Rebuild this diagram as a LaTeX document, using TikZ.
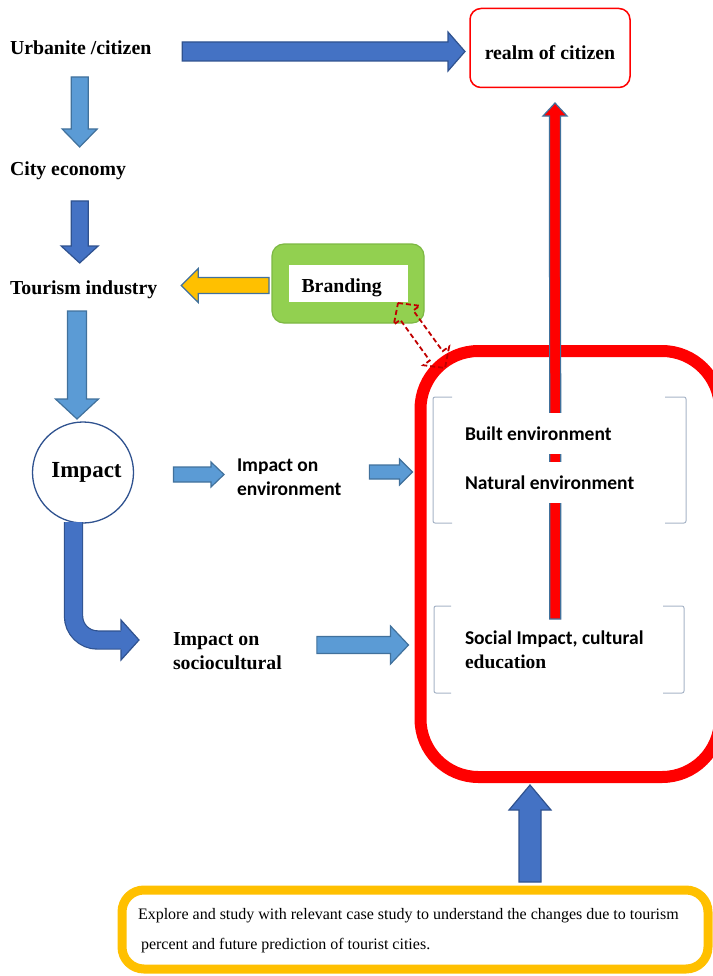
\documentclass[tikz,border=0pt]{standalone}
\usepackage{fontspec}
\setmainfont{Liberation Serif}
\newfontfamily\carlito{Carlito}
\newfontfamily\timesf{Liberation Serif}
\usetikzlibrary{calc}

\definecolor{lightfill}{HTML}{5B9BD5}
\definecolor{lightline}{HTML}{41719C}
\definecolor{darkfill}{HTML}{4472C4}
\definecolor{darkline}{HTML}{2F528F}
\definecolor{goldfill}{HTML}{FFC000}
\definecolor{leafgreen}{HTML}{92D050}
\definecolor{leafline}{HTML}{7DB843}
\definecolor{bracketgray}{HTML}{A6B3C6}
\definecolor{dashred}{HTML}{C00000}

\newcommand{\lblfont}{\fontsize{19.8pt}{24pt}\selectfont\bfseries}
\newcommand{\sanslbl}{\carlito\fontsize{19.5pt}{24pt}\selectfont\bfseries}

% block arrow: [style]{from}{to}{half body}{half head}{head length}
\newcommand{\barrow}[6][]{%
  \coordinate (ba-s) at #2;
  \coordinate (ba-e) at #3;
  \coordinate (ba-h) at ($(ba-e)!#6!(ba-s)$);
  \filldraw[#1] ($(ba-s)!#4!90:(ba-e)$) -- ($(ba-h)!#4!90:(ba-e)$) -- ($(ba-h)!#5!90:(ba-e)$) -- (ba-e)
    -- ($(ba-h)!#5!-90:(ba-e)$) -- ($(ba-h)!#4!-90:(ba-e)$) -- ($(ba-s)!#4!-90:(ba-e)$) -- cycle;}

% double block arrow, outline only
\newcommand{\dblarrow}[6][]{%
  \coordinate (da-s) at #2;
  \coordinate (da-e) at #3;
  \coordinate (da-a) at ($(da-s)!#6!(da-e)$);
  \coordinate (da-b) at ($(da-e)!#6!(da-s)$);
  \draw[#1] (da-s) -- ($(da-a)!#5!90:(da-e)$) -- ($(da-a)!#4!90:(da-e)$) -- ($(da-b)!#4!-90:(da-s)$)
    -- ($(da-b)!#5!-90:(da-s)$) -- (da-e) -- ($(da-b)!#5!90:(da-s)$) -- ($(da-b)!#4!90:(da-s)$)
    -- ($(da-a)!#4!-90:(da-e)$) -- ($(da-a)!#5!-90:(da-e)$) -- cycle;}

\begin{document}
\begin{tikzpicture}[x=1pt, y=-1pt,
    every node/.style={outer sep=0pt},
    lbl/.style={font=\lblfont, inner sep=0pt, text height=14pt, text depth=4pt, anchor=base west},
    sertext/.style={font=\lblfont, inner sep=0pt, align=left, anchor=west},
    sanstext/.style={font=\sanslbl, inner sep=0pt, align=left, anchor=west},
    envtext/.style={font=\sanslbl, fill=white, inner xsep=0pt, inner ysep=0pt, text height=13pt, text depth=0pt, minimum height=41pt, anchor=base west},
    lightarr/.style={fill=lightfill, draw=lightline, line width=1.2pt},
    darkarr/.style={fill=darkfill, draw=darkline, line width=1.2pt},
    goldarr/.style={fill=goldfill, draw=lightline, line width=1.2pt},
    redarr/.style={fill=red, draw=lightline, line width=1.2pt},
    brk/.style={draw=bracketgray, line width=1pt, rounded corners=2pt},
    dashlink/.style={draw=dashred, line width=1.8pt, dash pattern=on 5pt off 3pt}]
    \useasboundingbox (0,0) rectangle (712,976);

    % big red frame
    \node[draw=red, line width=12pt, rounded corners=58pt, minimum width=299.5pt, minimum height=426pt, inner sep=0pt] (frame) at (570.25,564) {};

    % left column
    \node[lbl] (urban) at (10,55) {Urbanite /citizen};
    \node[draw=red, line width=1.5pt, rounded corners=11pt, minimum width=160pt, minimum height=79pt, font=\lblfont, text height=24pt, text depth=0pt] (realm) at (550,48) {realm of citizen};
    \node[lbl] (city) at (10,176) {City economy};
    \node[lbl] (tourism) at (10,294) {Tourism industry};
    \node[fill=leafgreen, draw=leafline, line width=1.2pt, rounded corners=12pt, minimum width=152pt, minimum height=79pt] (brandbox) at (348,283.5) {};
    \node[fill=white, font=\lblfont, text width=93pt, inner xsep=13pt, inner ysep=0pt, text height=17pt, text depth=0pt, minimum height=37pt, align=left] (brand) at (brandbox.center) {Branding};
    \node[circle, draw=darkline, line width=1.3pt, minimum size=101pt, inner sep=0pt, font=\fontsize{23pt}{26pt}\selectfont\bfseries] (impact) at (83,472.5) {\hspace*{7pt}Impact};
    \node[sanstext] (impenv) at (237,477) {Impact on\\environment};
    \node[sertext] (impsoc) at (173,651) {Impact on\\sociocultural};
    \node[sanstext] (social) at (465,650) {Social Impact, cultural\\{\timesf\bfseries education}};

    % bottom box
    \node[draw=goldfill, fill=white, line width=9pt, rounded corners=22pt, minimum width=586pt, minimum height=79pt, inner sep=0pt] (explore) at (415,929.5) {};
    \node[anchor=west, align=left, inner sep=0pt, font=\fontsize{16pt}{30pt}\selectfont] (exploretxt) at (138,931) {Explore and study with relevant case study to understand the changes due to tourism\\\hspace*{3pt}percent and future prediction of tourist cities.};

    % brackets
    \draw[brk] (452,397) -- (433,397) -- (433,523) -- (452,523);
    \draw[brk] (665,397) -- (686,397) -- (686,523) -- (665,523);
    \draw[brk] (451,606) -- (434,606) -- (434,693) -- (451,693);
    \draw[brk] (663,606) -- (684,606) -- (684,693) -- (663,693);

    % red arrow up to realm, under the environment labels
    \barrow[redarr]{($(social.north)+(1,-12)$)}{($(realm.south)+(5,15.5)$)}{5.5pt}{12pt}{13pt}
    \node[envtext] (built) at (465,440) {Built environment};
    \node[envtext] (natural) at (465,489) {Natural environment};

    % block arrows
    \barrow[darkarr]{($(urban.east)+(31,1.5)$)}{($(realm.west)+(-5,3.5)$)}{9.5pt}{19.5pt}{17pt}
    \barrow[lightarr]{($(urban.south)+(-1,18)$)}{($(urban.south |- city.north)+(-1,-15)$)}{8.5pt}{17.5pt}{18pt}
    \barrow[darkarr]{($(urban.south |- city.south)+(-1,21)$)}{($(urban.south |- tourism.north)+(-1,-17)$)}{8.5pt}{18.5pt}{17pt}
    \barrow[goldarr]{($(brandbox.west)+(-3,2)$)}{($(brandbox.west -| tourism.east)+(24,2)$)}{8pt}{17pt}{17pt}
    \barrow[lightarr]{($(impact.north |- tourism.south)+(-6,13)$)}{($(impact.north)+(-6,-3)$)}{9.5pt}{21.5pt}{20pt}
    \barrow[lightarr]{($(impact.east)+(40,2)$)}{($(impenv.west)+(-13,-2.5)$)}{7.5pt}{12.5pt}{13pt}
    \barrow[lightarr]{($(impenv.east)+(28,-5)$)}{($(frame.west |- impenv.east)+(-8,-5)$)}{7pt}{13pt}{13pt}
    \barrow[lightarr]{($(impsoc.east)+(35,-6)$)}{($(frame.west |- impsoc.east)+(-12,-6)$)}{8.5pt}{19pt}{18pt}
    \barrow[darkarr]{($(explore.north)+(115,-8)$)}{($(frame.south)+(-40.25,8)$)}{11pt}{21pt}{25pt}

    % bent arrow from impact
    \coordinate (bendtip) at ($(impsoc.west)+(-34,-11)$);
    \draw[double=darkfill, double distance=17pt, draw=darkline, line width=1.2pt, rounded corners=24pt] ($(impact.south)+(-9.5,-1)$) |- ($(bendtip)+(-17,0)$);
    \filldraw[darkarr] ($(bendtip)+(-18,-9.7)$) -- ++(0,-10.3) -- (bendtip) -- ($(bendtip)+(-18,20)$) -- ++(0,-10.3);

    % dashed link branding - frame
    \dblarrow[dashlink]{($(brandbox.south east)+(-26,-20)$)}{($(frame.north west)+(24.5,17)$)}{8pt}{16pt}{15pt}
\end{tikzpicture}
\end{document}
